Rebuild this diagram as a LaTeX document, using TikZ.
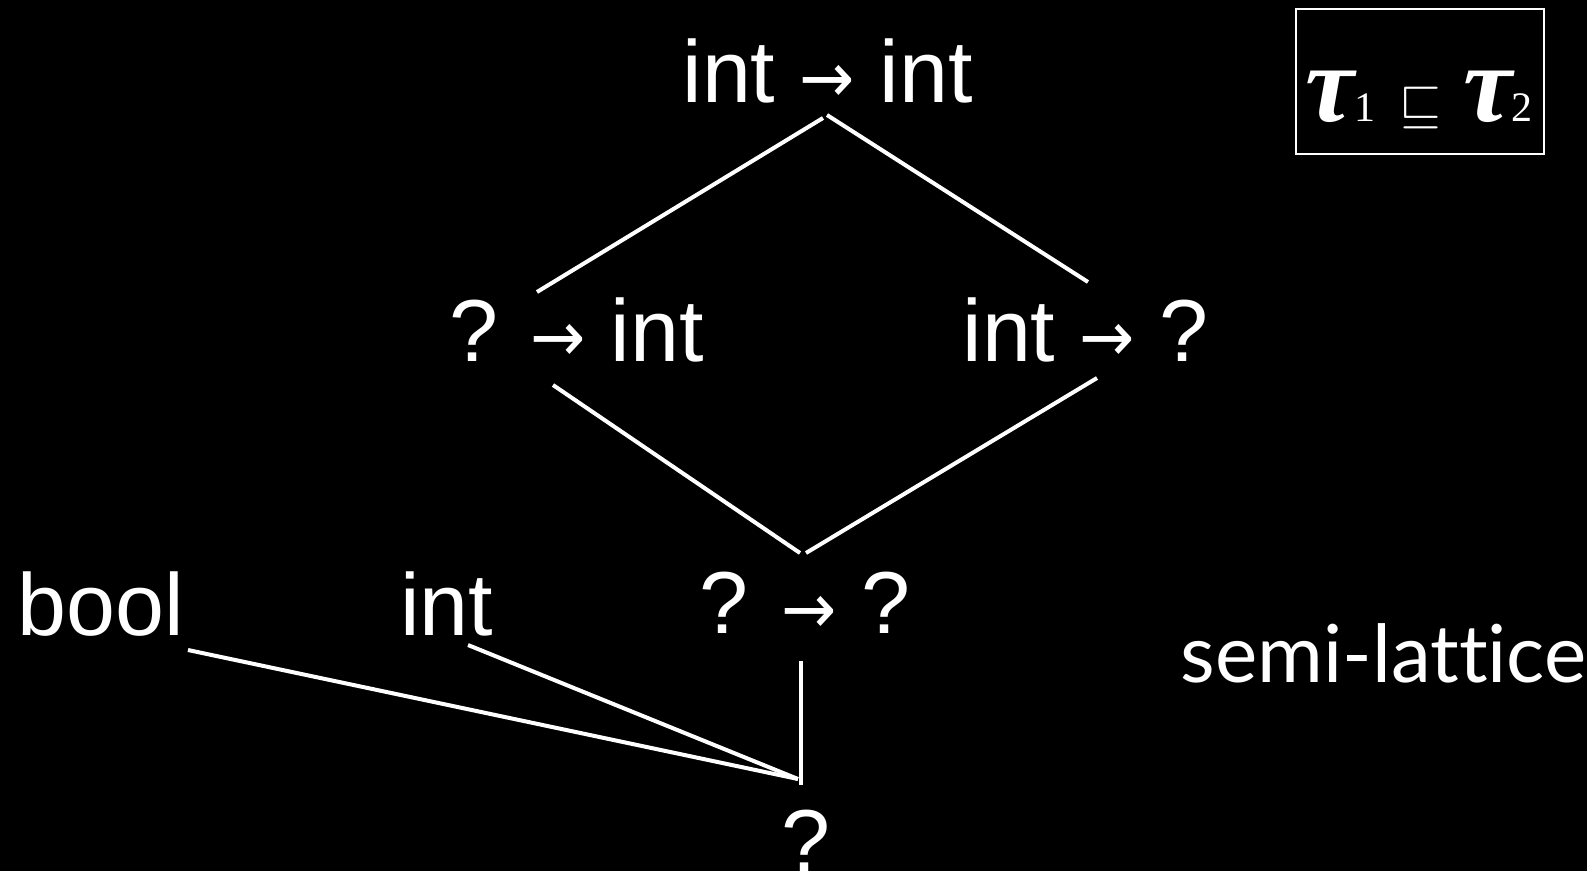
\documentclass[tikz,border=0pt]{standalone}
\usepackage{fontspec}
\usepackage{graphicx}
\setmainfont{Liberation Sans}
\newfontfamily\latnotefont{Lato}[Ligatures=NoCommon]
\newfontfamily\lattaufont{Liberation Serif}
\newfontfamily\latarrowfont{DejaVu Sans}
\usetikzlibrary{calc}
\definecolor{latPaper}{HTML}{000000}
\definecolor{latInk}{HTML}{FFFFFF}
\newcommand{\tyarr}{\scalebox{0.75}[0.8]{\latarrowfont →}}

\begin{document}
\begin{tikzpicture}[
    x=1pt, y=-1pt,
    lat edge/.style={draw=latInk, line width=4pt},
    lat type/.style={text=latInk, font=\fontsize{88}{100}\selectfont, inner sep=0pt, anchor=base},
    lat note/.style={text=latInk, font=\latnotefont\fontsize{80}{90}\selectfont, inner sep=0pt, anchor=base},
    lat frame/.style={draw=latInk, line width=2pt, minimum width=248pt, minimum height=145pt, inner sep=0pt},
    lat order/.style={text=latInk, inner sep=0pt, anchor=base},
]
  \useasboundingbox[fill=latPaper] (0,0) rectangle (1587,871);

  % Tipos.
  \node[lat type] (ty-top) at (827.5,102) {int \tyarr{} int};
  \node[lat type] (ty-left) at (576.5,361) {? \tyarr{} int};
  \node[lat type] (ty-right) at (1085.5,361) {int \tyarr{} ?};
  \node[lat type] (ty-mid) at (805,633) {? \tyarr{} ?};
  \node[lat type] (ty-bool) at (101,635) {bool};
  \node[lat type] (ty-int) at (446.5,635) {int};
  \node[lat type] (ty-dyn) at (806,871) {?};

  % Ordem.
  \draw[lat edge] ($(ty-top.base)+(-4.5,16)$) -- ($(ty-left.base)+(-39.5,-69)$);
  \draw[lat edge] ($(ty-top.base)+(-0.5,13)$) -- ($(ty-right.base)+(2.5,-79)$);
  \draw[lat edge] ($(ty-left.base)+(-23.5,24)$) -- ($(ty-mid.base)+(-5,-80)$);
  \draw[lat edge] ($(ty-right.base)+(11.5,17)$) -- ($(ty-mid.base)+(1,-80)$);
  \draw[lat edge] ($(ty-mid.base)+(-4,28)$) -- ($(ty-dyn.base)+(-5,-86)$);
  \draw[lat edge] ($(ty-bool.base)+(87,15)$) -- ($(ty-dyn.base)+(-8,-92)$);
  \draw[lat edge] ($(ty-int.base)+(21.5,10)$) -- ($(ty-dyn.base)+(-8,-92)$);

  % Legendas.
  \node[lat note] (note) at (1383.5,682) {semi-lattice};
  \node[lat frame] (order-box) at (1420,81.5) {};
  \node[lat order] (order) at (1419,121) {{\lattaufont\bfseries\itshape\fontsize{110}{110}\selectfont τ}{\lattaufont\fontsize{42}{42}\selectfont 1}\hspace{24pt}{\fontsize{10}{12}\selectfont\scalebox{5.4}{$\sqsubseteq$}}\hspace{22pt}{\lattaufont\bfseries\itshape\fontsize{110}{110}\selectfont τ}{\lattaufont\fontsize{42}{42}\selectfont 2}};
\end{tikzpicture}
\end{document}
